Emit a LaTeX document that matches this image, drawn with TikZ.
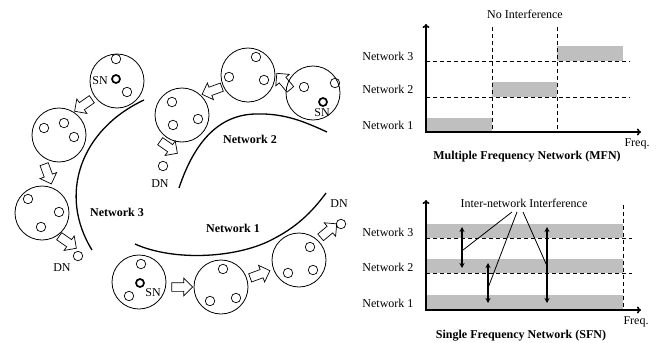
\documentclass[tikz,border=0pt]{standalone}
\usepackage{fontspec}
\setmainfont{Liberation Serif}
\usetikzlibrary{shapes.arrows,arrows.meta}

\begin{document}
\begin{tikzpicture}[x=1pt,y=-1pt,
        font=\fontsize{12}{14}\selectfont,
        cell/.style={circle,draw,line width=0.8pt,minimum size=54pt,inner sep=0pt},
        dot/.style={circle,draw,line width=0.7pt,minimum size=9.5pt,inner sep=0pt},
        sn/.style={dot,line width=1.7pt,minimum size=8pt},
        hop/.style={single arrow,draw,line width=0.7pt,minimum height=21pt,inner sep=4pt,single arrow head extend=4.5pt,single arrow head indent=0pt},
        lbl/.style={font=\fontsize{12}{14}\selectfont\bfseries},
        band/.style={fill=gray!50,draw=none},
        grid/.style={line width=0.8pt,dash pattern=on 4pt off 3pt},
        axis/.style={line width=1.6pt,-{To[length=4pt,width=7pt]}},
        link/.style={line width=1.6pt,{Stealth[length=5pt,width=5pt]}-{Stealth[length=5pt,width=5pt]}}]
    \useasboundingbox (0,0) rectangle (662,343);

    % network 3
    \node[cell] (n3a) at (117,81) {};
    \node[dot] (n3a1) at (116,59) {};
    \node[sn] (n3sn) at (116,79) {};
    \node[dot] (n3a2) at (127,92) {};
    \node (n3snl) at (100,81) {SN};
    \node[cell] (n3b) at (59,135) {};
    \node[dot] (n3b1) at (44,128) {};
    \node[dot] (n3b2) at (64,123) {};
    \node[dot] (n3b3) at (74,137) {};
    \node[cell] (n3c) at (42,213) {};
    \node[dot] (n3c1) at (28,199) {};
    \node[dot] (n3c2) at (59,212) {};
    \node[dot] (n3c3) at (41,227) {};
    \node[dot] (n3dn) at (78,256) {};
    \node (n3dnl) at (62,268) {DN};
    \node[hop,rotate=215] (h3a) at (85,104) {};
    \node[hop,rotate=290] (h3b) at (47,172) {};
    \node[hop,rotate=-35] (h3c) at (66,241) {};
    \draw[line width=1.3pt] (144,100) .. controls (80,130) and (58,195) .. (92,250);
    \node[lbl] (net3) at (117,212) {Network 3};

    % network 2
    \node[cell] (n2a) at (182,115) {};
    \node[dot] (n2a1) at (172,102) {};
    \node[dot] (n2a2) at (173,125) {};
    \node[dot] (n2a3) at (198,119) {};
    \node[cell] (n2b) at (248,75) {};
    \node[dot] (n2b1) at (256,57) {};
    \node[dot] (n2b2) at (229,77) {};
    \node[dot] (n2b3) at (264,80) {};
    \node[cell] (n2c) at (313,93) {};
    \node[dot] (n2c1) at (304,87) {};
    \node[dot] (n2c2) at (335,83) {};
    \node[sn] (n2sn) at (323,102) {};
    \node (n2snl) at (322,113) {SN};
    \node[dot] (n2dn) at (163,166) {};
    \node (n2dnl) at (160,184) {DN};
    \node[hop,rotate=130] (h2a) at (285,83) {};
    \node[hop,rotate=200] (h2b) at (214,90) {};
    \node[hop,rotate=-35] (h2c) at (167,146) {};
    \draw[line width=1.3pt] (179,188) .. controls (195,140) and (220,115) .. (255,114)
        .. controls (285,113) and (305,122) .. (327,132);
    \node[lbl] (net2) at (250,139) {Network 2};

    % network 1
    \node[cell] (n1a) at (139,282) {};
    \node[dot] (n1a1) at (141,264) {};
    \node[sn] (n1sn) at (140,283) {};
    \node[dot] (n1a2) at (129,296) {};
    \node (n1snl) at (153,293) {SN};
    \node[cell] (n1b) at (221,287) {};
    \node[dot] (n1b1) at (223,269) {};
    \node[dot] (n1b2) at (210,301) {};
    \node[dot] (n1b3) at (236,298) {};
    \node[cell] (n1c) at (299,260) {};
    \node[dot] (n1c1) at (310,247) {};
    \node[dot] (n1c2) at (288,273) {};
    \node[dot] (n1c3) at (313,270) {};
    \node[dot] (n1dn) at (341,224) {};
    \node (n1dnl) at (339,204) {DN};
    \node[hop] (h1a) at (180,287) {};
    \node[hop,rotate=20] (h1b) at (258,275) {};
    \node[hop,rotate=40] (h1c) at (327,232) {};
    \draw[line width=1.3pt] (135,244) .. controls (175,262) and (240,258) .. (275,238)
        .. controls (300,225) and (315,208) .. (326,193);
    \node[lbl] (net1) at (233,228) {Network 1};

    % MFN chart
    \fill[band] (426,118) rectangle (492,132);
    \fill[band] (492,82) rectangle (557,97);
    \fill[band] (557,46) rectangle (623,61);
    \draw[grid] (426,61) -- (630,61);
    \draw[grid] (426,97) -- (630,97);
    \draw[grid] (492,27) -- (492,132);
    \draw[grid] (557,27) -- (557,132);
    \coordinate (my) at (426,24);
    \coordinate (mx) at (641,132);
    \draw[axis] (426,133) -- (my);
    \draw[axis] (425,132) -- (mx);
    \node[anchor=east] (m3) at (417,56) {Network 3};
    \node[anchor=east] (m2) at (417,89) {Network 2};
    \node[anchor=east] (m1) at (417,125) {Network 1};
    \node (mnote) at (525,14) {No Interference};
    \node (mfreq) at (637,144) {Freq.};
    \node[lbl] (mtitle) at (527,157) {Multiple Frequency Network (MFN)};

    % SFN chart
    \fill[band] (426,224) rectangle (623,238);
    \fill[band] (426,259) rectangle (623,273);
    \fill[band] (426,295) rectangle (623,309);
    \draw[grid] (426,238) -- (632,238);
    \draw[grid] (426,273) -- (632,273);
    \draw[grid] (623,205) -- (623,310);
    \coordinate (sy) at (426,200);
    \coordinate (sx) at (641,310);
    \draw[axis] (426,311) -- (sy);
    \draw[axis] (425,310) -- (sx);
    \node[anchor=east] (s3) at (417,232) {Network 3};
    \node[anchor=east] (s2) at (417,267) {Network 2};
    \node[anchor=east] (s1) at (417,303) {Network 1};
    \coordinate (a1t) at (462,227);
    \coordinate (a1b) at (462,268);
    \coordinate (a2t) at (488,263);
    \coordinate (a2b) at (488,303);
    \coordinate (a3t) at (547,227);
    \coordinate (a3b) at (547,303);
    \draw[link] (a1t) -- (a1b);
    \draw[link] (a2t) -- (a2b);
    \draw[link] (a3t) -- (a3b);
    \node (snote) at (524,203) {Inter-network Interference};
    \draw[line width=0.8pt] (512,212) -- (463,250);
    \draw[line width=0.8pt] (517,212) -- (488,288);
    \draw[line width=0.8pt] (523,212) -- (547,266);
    \node (sfreq) at (636,322) {Freq.};
    \node[lbl] (stitle) at (521,336) {Single Frequency Network (SFN)};
\end{tikzpicture}
\end{document}
